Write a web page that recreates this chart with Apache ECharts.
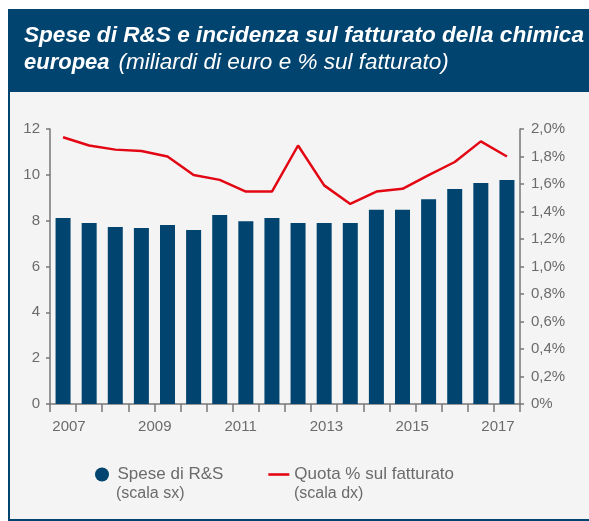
<!DOCTYPE html>
<html>
<head>
<meta charset="utf-8">
<script src="https://cdn.jsdelivr.net/npm/echarts@6/dist/echarts.min.js"></script>
<style>
  html, body { margin: 0; padding: 0; background: #fff; }
  #chart { width: 589px; height: 521px; }
</style>
</head>
<body>
<div id="chart"></div>
<script>
// 18 periods, labelled 2007..2017 on the axis below
const periods = ['p1', 'p2', 'p3', 'p4', 'p5', 'p6', 'p7', 'p8', 'p9', 'p10', 'p11', 'p12', 'p13', 'p14', 'p15', 'p16', 'p17', 'p18']
const speseRS = [8.12, 7.90, 7.72, 7.68, 7.81, 7.59, 8.25, 7.98, 8.12, 7.90, 7.90, 7.90, 8.48, 8.48, 8.94, 9.38, 9.64, 9.77]
const quotaFatturato = [1.94, 1.88, 1.85, 1.84, 1.80, 1.665, 1.63, 1.545, 1.545, 1.88, 1.59, 1.455, 1.545, 1.565, 1.665, 1.76, 1.91, 1.80]
const yearTicks = [2007, 2009, 2011, 2013, 2015, 2017]

const blue = '#00446f'
const red = '#e30613'
const grey = '#6b6b6b'
const font = 'Liberation Sans, Arial, sans-serif'

const chart = echarts.init(document.getElementById('chart'))

const option = {
  backgroundColor: '#ffffff',
  animation: false,
  textStyle: { fontFamily: font },
  graphic: [
    { type: 'rect', z: -10, shape: { x: 8, y: 9, width: 581, height: 84 }, style: { fill: blue } },
    { type: 'rect', z: -10, shape: { x: 8, y: 92, width: 581, height: 429 }, style: { fill: blue } },
    { type: 'rect', z: -9, shape: { x: 10, y: 92, width: 579, height: 427 }, style: { fill: '#f4f4f4' } },
    {
      type: 'text', z: 10, x: 24, y: 36,
      style: {
        text: 'Spese di R&S e incidenza sul fatturato della chimica',
        fill: '#fff', font: 'italic bold 22.6px ' + font, verticalAlign: 'middle'
      }
    },
    {
      type: 'text', z: 10, x: 24, y: 63,
      style: {
        text: '{b|europea}{i|(miliardi di euro e % sul fatturato)}',
        fill: '#fff', verticalAlign: 'middle',
        rich: {
          b: { fill: '#fff', font: 'italic bold 22px ' + font },
          i: { fill: '#fff', font: 'italic 22.5px ' + font, padding: [0, 0, 0, 9] }
        }
      }
    },
    { type: 'text', z: 10, x: 116, y: 494, style: { text: '(scala sx)', fill: grey, font: '16px ' + font, verticalAlign: 'middle' } },
    { type: 'text', z: 10, x: 294, y: 494, style: { text: '(scala dx)', fill: grey, font: '16px ' + font, verticalAlign: 'middle' } }
  ],
  legend: {
    left: 90,
    top: 461,
    itemWidth: 21,
    itemHeight: 14,
    itemGap: 45,
    symbolKeepAspect: true,
    textStyle: { color: grey, fontSize: 17, fontFamily: font },
    data: [
      { name: 'Spese di R&S', icon: 'circle' },
      { name: 'Quota % sul fatturato', icon: 'path://M0,0h21v2.6h-21z' }
    ]
  },
  grid: {
    left: 50,
    right: 69,
    top: 129,
    bottom: 117,
    containLabel: false
  },
  xAxis: [
    {
      type: 'category',
      data: periods,
      boundaryGap: true,
      axisLine: { lineStyle: { color: '#777', width: 1.5 } },
      axisTick: { show: true, length: 8, lineStyle: { color: '#777', width: 1.5 } },
      axisLabel: { show: false }
    },
    {
      type: 'value',
      position: 'bottom',
      min: 2006.557,
      max: 2017.513,
      axisLine: { show: false },
      axisTick: { show: false },
      splitLine: { show: false },
      axisLabel: {
        customValues: yearTicks,
        margin: 15,
        color: grey,
        fontSize: 15,
        fontFamily: font,
        formatter: v => String(v)
      }
    }
  ],
  yAxis: [
    {
      type: 'value',
      min: 0,
      max: 12,
      interval: 2,
      axisLine: { show: true, lineStyle: { color: '#777', width: 1.5 } },
      axisTick: { show: true, length: 4, lineStyle: { color: '#777', width: 1.5 } },
      axisLabel: { color: grey, fontSize: 15, fontFamily: font, margin: 10 },
      splitLine: { show: false }
    },
    {
      type: 'value',
      min: 0,
      max: 2,
      interval: 0.2,
      position: 'right',
      axisLine: { show: true, lineStyle: { color: '#777', width: 1.5 } },
      axisTick: { show: true, length: 4, lineStyle: { color: '#777', width: 1.5 } },
      axisLabel: {
        color: grey, fontSize: 15, fontFamily: font, margin: 11,
        formatter: v => v === 0 ? '0%' : v.toFixed(1).replace('.', ',') + '%'
      },
      splitLine: { show: false }
    }
  ],
  series: [
    {
      name: 'Spese di R&S',
      type: 'bar',
      xAxisIndex: 0,
      yAxisIndex: 0,
      barWidth: 15,
      data: speseRS,
      itemStyle: { color: blue }
    },
    {
      name: 'Quota % sul fatturato',
      type: 'line',
      xAxisIndex: 0,
      yAxisIndex: 1,
      symbol: 'none',
      data: quotaFatturato,
      lineStyle: { color: red, width: 2.5 },
      itemStyle: { color: red }
    }
  ]
}

chart.setOption(option)
</script>
</body>
</html>
